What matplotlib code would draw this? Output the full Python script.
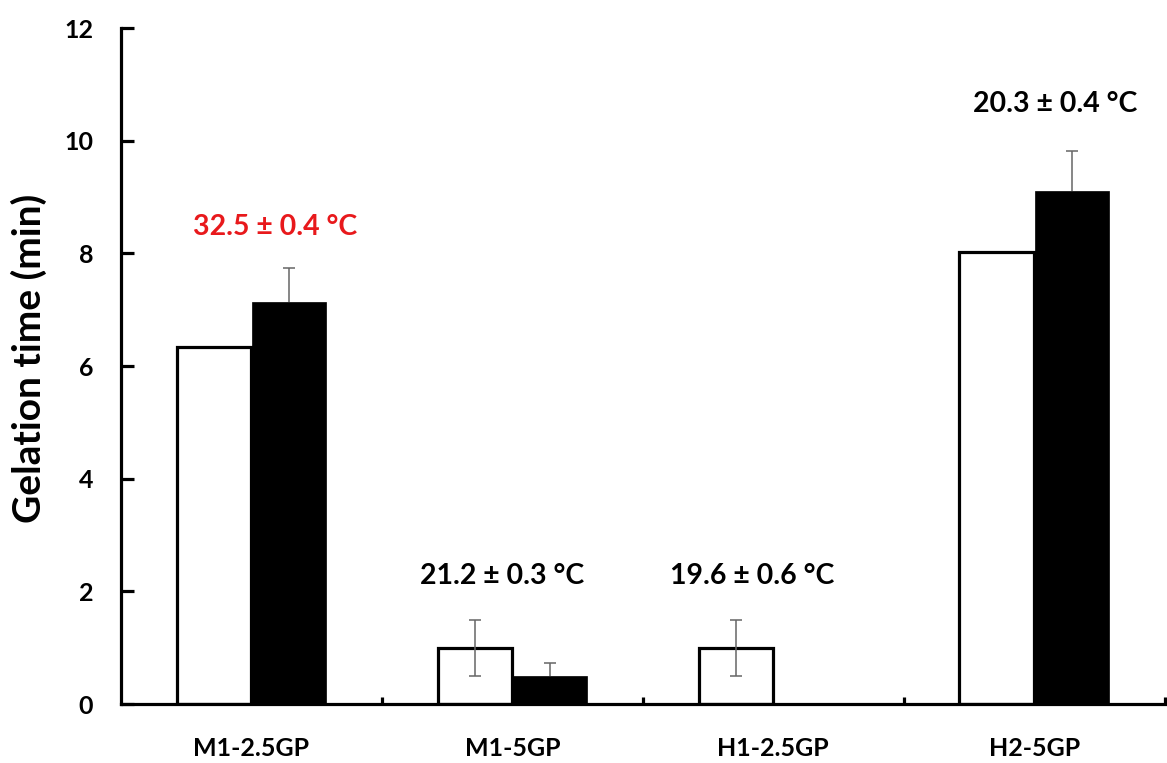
import numpy as np
import matplotlib.pyplot as plt

groups = ['M1-2.5GP', 'M1-5GP', 'H1-2.5GP', 'H2-5GP']
white_vals = [6.33, 1.0, 1.0, 8.02]
white_err = [0.0, 0.5, 0.5, 0.0]
black_vals = [7.14, 0.5, 0.0, 9.1]
black_err = [0.6, 0.23, 0.0, 0.72]
temp_labels = ['32.5 ± 0.4 °C', '21.2 ± 0.3 °C', '19.6 ± 0.6 °C', '20.3 ± 0.4 °C']
temp_colors = ['#e8191c', 'black', 'black', 'black']

plt.rcParams['font.family'] = ['Lato', 'DejaVu Sans']
plt.rcParams['font.weight'] = 'bold'

fig = plt.figure(figsize=(11.67, 7.63), dpi=100)
ax = fig.add_axes([0.1037, 0.0773, 0.8943, 0.886])

x = np.arange(len(groups))
w = 0.285
off = 0.144

ax.bar(x - off, white_vals, w, color='white', edgecolor='black', linewidth=2.3, zorder=2)
ax.bar(x + off, black_vals, w, color='black', edgecolor='black', linewidth=0.5, zorder=2)

# error bars: white bars both ways, black bars plus only
we = np.array(white_err)
be = np.array(black_err)
m = we > 0
ax.errorbar((x - off)[m], np.array(white_vals)[m], yerr=we[m], fmt='none',
            ecolor='#666666', elinewidth=1.1, capsize=4, capthick=1.1, zorder=3)
m = be > 0
eb = ax.errorbar((x + off)[m], np.array(black_vals)[m], yerr=[np.zeros(m.sum()), be[m]],
                 fmt='none', ecolor='#666666', elinewidth=1.1, capsize=4, capthick=1.1, zorder=3)
eb[1][0].set_visible(False)  # no lower cap on plus-only bars

# temperature annotations
label_x = [0.09, 0.96, 1.92, 3.08]
label_y = [8.47, 2.27, 2.27, 10.65]
for lx, ly, t, c in zip(label_x, label_y, temp_labels, temp_colors):
    ax.text(lx, ly, t, ha='center', va='center', fontsize=20.5, fontweight='bold', color=c)

ax.set_xlim(-0.5, 3.5)
ax.set_ylim(0, 12)
ax.set_yticks(np.arange(0, 13, 2))
ax.set_xticks(x)
ax.set_xticklabels(groups)
ax.set_xticks(x + 0.5, minor=True)

for s in ['top', 'right']:
    ax.spines[s].set_visible(False)
for s in ['left', 'bottom']:
    ax.spines[s].set_linewidth(2.3)
    ax.spines[s].set_zorder(4)

ax.tick_params(axis='y', direction='in', length=9, width=2.3, pad=20, labelsize=18)
ax.tick_params(axis='x', which='major', length=0, pad=24, labelsize=18)
ax.tick_params(axis='x', which='minor', direction='in', length=5, width=2.3)

ax.set_ylabel('Gelation time (min)', fontsize=28, fontweight='bold')
ax.yaxis.set_label_coords(-0.071, 0.512)

fig.savefig('out.png', dpi=100)
